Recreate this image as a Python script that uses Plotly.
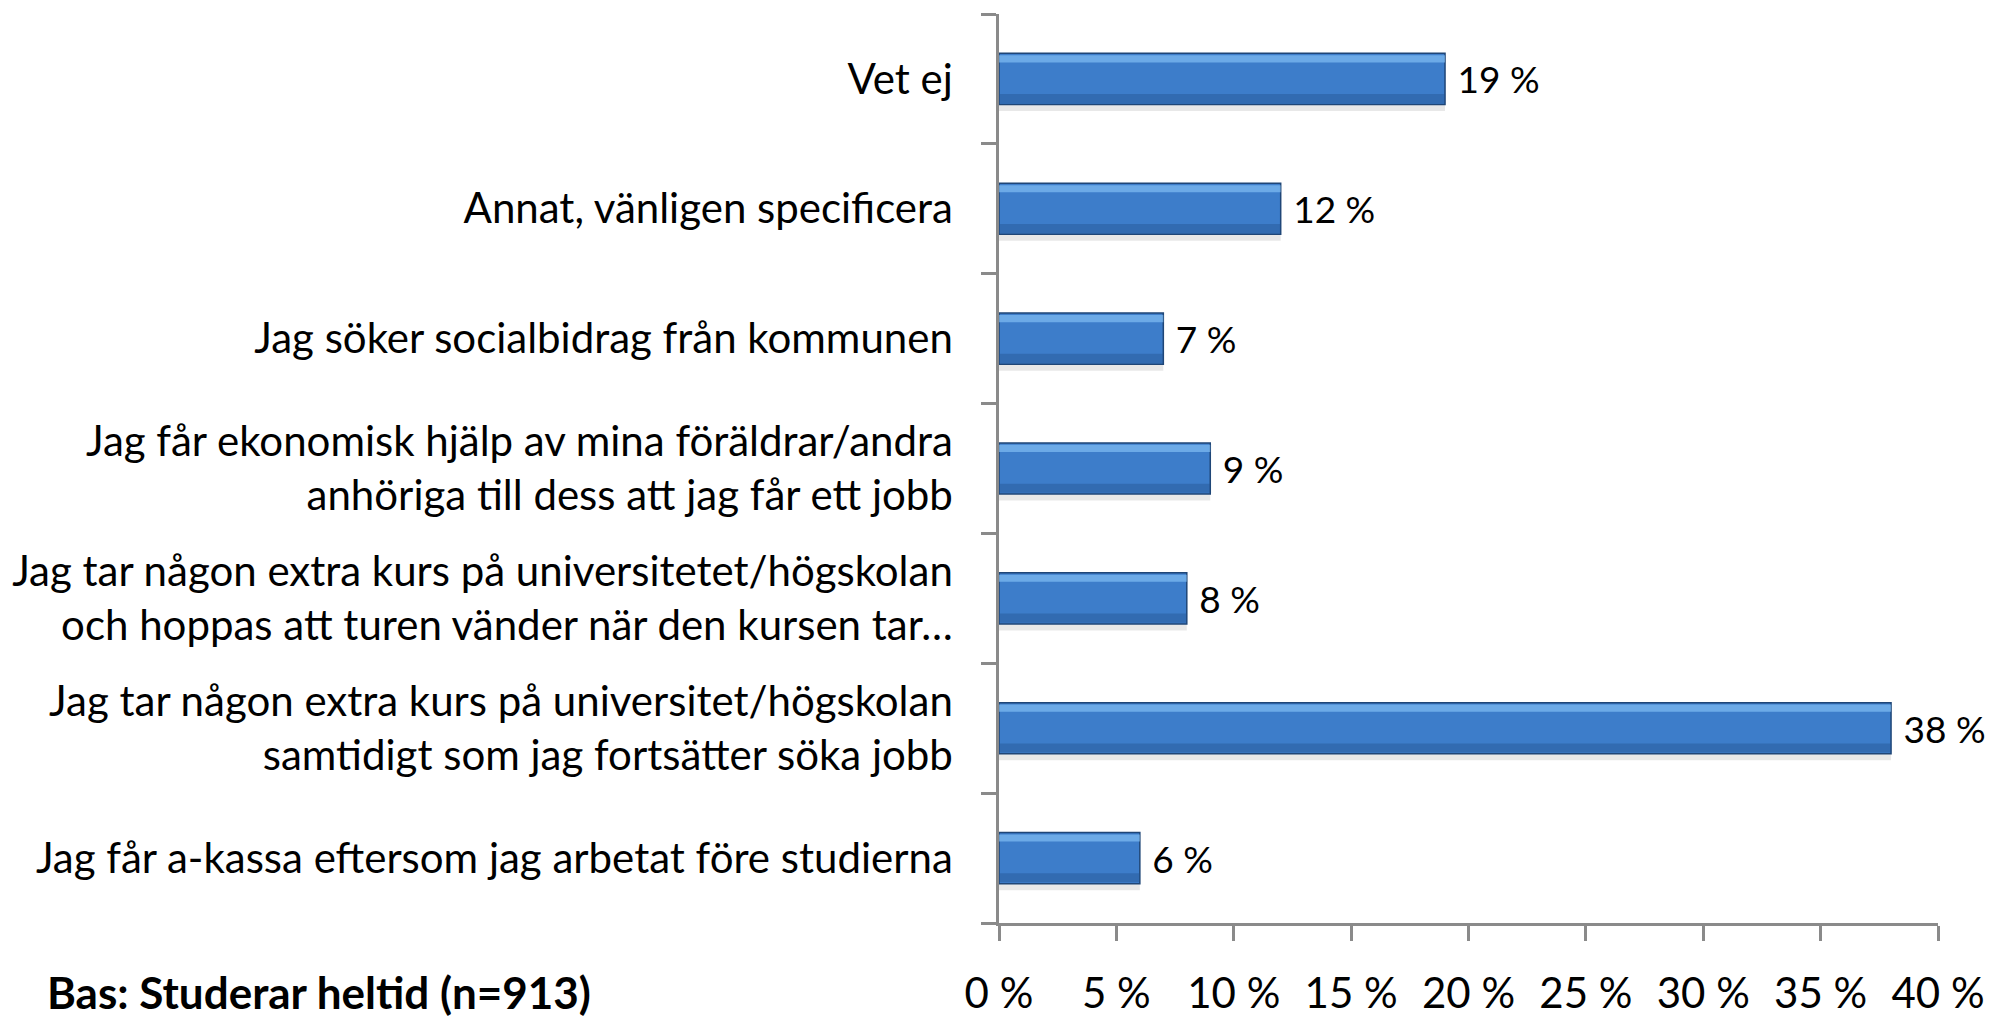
import plotly.graph_objects as go

categories = [
    "Jag får a-kassa eftersom jag arbetat före studierna",
    "Jag tar någon extra kurs på universitet/högskolan<br>samtidigt som jag fortsätter söka jobb",
    "Jag tar någon extra kurs på universitetet/högskolan<br>och hoppas att turen vänder när den kursen tar…",
    "Jag får ekonomisk hjälp av mina föräldrar/andra<br>anhöriga till dess att jag får ett jobb",
    "Jag söker socialbidrag från kommunen",
    "Annat, vänligen specificera",
    "Vet ej",
]
values = [6, 38, 8, 9, 7, 12, 19]
x_ticks = [0, 5, 10, 15, 20, 25, 30, 35, 40]
x_tick_labels = ["0 %", "5 %", "10 %", "15 %", "20 %", "25 %", "30 %", "35 %", "40 %"]
base_note = "<b>Bas: Studerar heltid (n=913)</b>"

FONT = "Lato, Carlito, Calibri, sans-serif"
FS_CAT = 42
FS_TICK = 42
FS_DATA = 37
BW = 0.394
half = BW / 2

# plot area in pixels
L, R, T, B = 999, 1993 - 1938, 14, 1018 - 923
PW, PH = 1993 - L - R, 1018 - T - B

fig = go.Figure()

# drop shadow
fig.add_trace(go.Bar(
    y=categories, x=values, orientation="h",
    offset=-half - 0.05, width=0.055,
    marker=dict(color="rgba(0,0,0,0.09)", line=dict(width=0)),
    hoverinfo="skip", showlegend=False,
))
# main bar
fig.add_trace(go.Bar(
    y=categories, x=values, orientation="h",
    offset=-half, width=BW,
    marker=dict(color="#3d7dca", line=dict(color="#1f4677", width=1.5)),
    texttemplate="\u00a0%{x} %", textposition="outside", constraintext="none",
    cliponaxis=False,
    textfont=dict(family=FONT, size=FS_DATA, color="#000000"),
    showlegend=False,
))
# darker lower band
fig.add_trace(go.Bar(
    y=categories, x=values, orientation="h",
    offset=-half + 0.01, width=0.07,
    marker=dict(color="rgba(35,80,140,0.40)", line=dict(width=0)),
    hoverinfo="skip", showlegend=False,
))
# light upper highlight
fig.add_trace(go.Bar(
    y=categories, x=values, orientation="h",
    offset=half - 0.07, width=0.055,
    marker=dict(color="rgba(140,200,250,0.60)", line=dict(width=0)),
    hoverinfo="skip", showlegend=False,
))

fig.update_layout(
    width=1993, height=1018,
    margin=dict(l=L, r=R, t=T, b=B, autoexpand=False),
    plot_bgcolor="white", paper_bgcolor="white",
    barmode="overlay",
    font=dict(family=FONT, size=FS_CAT, color="#000000"),
    xaxis=dict(
        range=[0, 40], tickvals=x_ticks, ticktext=x_tick_labels,
        automargin=False,
        showgrid=False, zeroline=False,
        showline=True, linecolor="#8a8a8a", linewidth=2.5,
        ticks="outside", ticklen=15, tickcolor="#8a8a8a", tickwidth=2.5,
        tickfont=dict(family=FONT, size=FS_TICK, color="#000000"),
        ticklabelstandoff=17,
    ),
    yaxis=dict(
        categoryorder="array", categoryarray=categories,
        range=[-0.5, 6.5],
        automargin=False,
        showgrid=False, zeroline=False,
        showline=True, linecolor="#8a8a8a", linewidth=2.5,
        ticks="outside", ticklen=15, tickcolor="#8a8a8a", tickwidth=2.5,
        tickson="boundaries",
        tickfont=dict(family=FONT, size=FS_CAT, color="#000000"),
        ticklabelstandoff=35,
    ),
    annotations=[dict(
        text=base_note, xref="paper", yref="paper",
        x=(45 - L) / PW, y=-(992 - 923) / PH,
        xanchor="left", yanchor="middle", showarrow=False,
        font=dict(family=FONT, size=44, color="#000000"),
    )],
)

fig.write_html("out.html", config={"displayModeBar": False},
               post_script="document.body.style.margin='0px';")
